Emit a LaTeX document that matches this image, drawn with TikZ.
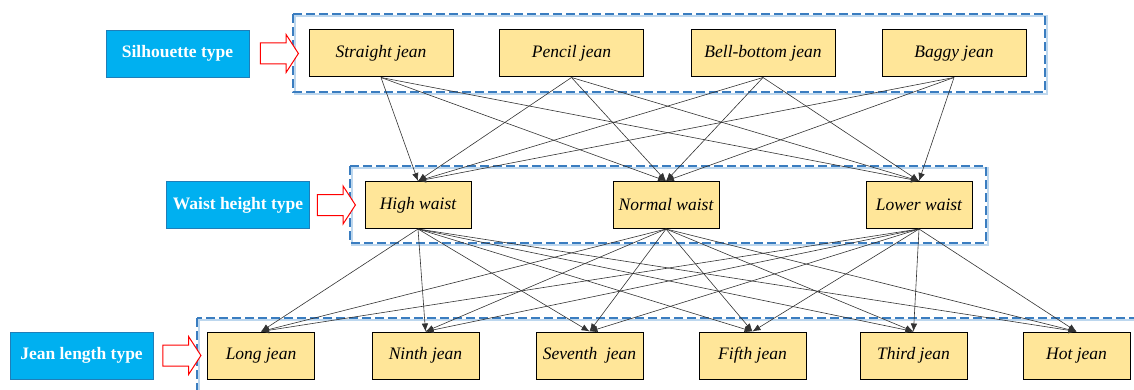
\documentclass[tikz,border=0pt]{standalone}
\usepackage{fontspec}
\setmainfont{Liberation Serif}
\usetikzlibrary{arrows.meta,shapes.arrows}
\definecolor{typeB}{HTML}{00B0F0}
\definecolor{typeBd}{HTML}{1F7EB8}
\definecolor{jean}{HTML}{FFE699}
\definecolor{grpB}{HTML}{3A7DC0}
\definecolor{grpBl}{HTML}{BDD7EE}

\begin{document}
\begin{tikzpicture}[x=1pt,y=-1pt,
 typ/.style={draw=typeBd, fill=typeB, text=white, font=\fontsize{17.5}{20}\selectfont\bfseries,
             minimum width=143pt, minimum height=47pt, inner sep=0pt},
 jb/.style={draw=black, line width=1pt, fill=jean, font=\fontsize{17.5}{20}\selectfont\itshape,
            minimum height=47pt, inner sep=0pt},
 grp/.style={draw=grpB, dash pattern=on 9pt off 4pt, line width=1.6pt},
 grpl/.style={draw=grpBl, line width=1.4pt},
 bar/.style={single arrow, draw=red, fill=white, line width=1pt, minimum height=38pt,
             minimum width=37pt, single arrow head extend=8.5pt, single arrow tip angle=114,
             inner xsep=0pt, inner ysep=10pt},
 ar/.style={-{Latex[length=8pt,width=6.5pt]}, black!80, line width=0.6pt},
]
 \clip (0,0) rectangle (1134,390);
 % dashed groups
 \draw[grpl] (295,16) rectangle (1047,94);
 \draw[grp] (293,14) rectangle (1045,92);
 \draw[grpl] (352,168) rectangle (988,245);
 \draw[grp] (350,166) rectangle (986,243);
 \draw[grpl] (199,320) rectangle (1142,400);
 \draw[grp] (197,318) rectangle (1140,398);

 \node[typ] (sil) at (177.5,53.5) {Silhouette type};
 \node[typ] (wai) at (238,205) {Waist height type};
 \node[typ] (len) at (81.5,355.5) {Jean length type};
 \node[bar] (a1) at (276,53.5) {};
 \node[bar] (a2) at (333,205) {};
 \node[bar] (a3) at (178.5,355.5) {};

 \node[jb, minimum width=144pt] (st) at (381,53.5) {Straight jean};
 \node[jb, minimum width=144pt] (pj) at (571.5,53.5) {Pencil jean};
 \node[jb, minimum width=144pt] (bb) at (763,53.5) {Bell-bottom jean};
 \node[jb, minimum width=144pt] (bg) at (954,53.5) {Baggy jean};

 \node[jb, minimum width=106pt] (hw) at (418,205) {High waist};
 \node[jb, minimum width=106pt] (nw) at (666,205) {Normal waist};
 \node[jb, minimum width=106pt] (lw) at (919,205) {Lower waist};

 \node[jb, minimum width=107pt] (lj) at (261,355.5) {Long jean};
 \node[jb, minimum width=107pt] (nj) at (425.5,355.5) {Ninth jean};
 \node[jb, minimum width=107pt] (sj) at (589.5,355.5) {Seventh\ \ jean};
 \node[jb, minimum width=107pt] (fj) at (752.5,355.5) {Fifth jean};
 \node[jb, minimum width=107pt] (tj) at (913.5,355.5) {Third jean};
 \node[jb, minimum width=107pt] (hj) at (1076.5,355.5) {Hot jean};

 % every type to every type of the next level
 \foreach \s in {st,pj,bb,bg}
  \foreach \t in {hw,nw,lw}
   \draw[ar] (\s.south) -- (\t.north);
 \foreach \s in {hw,nw,lw}
  \foreach \t in {lj,nj,sj,fj,tj,hj}
   \draw[ar] (\s.south) -- (\t.north);
\end{tikzpicture}
\end{document}
